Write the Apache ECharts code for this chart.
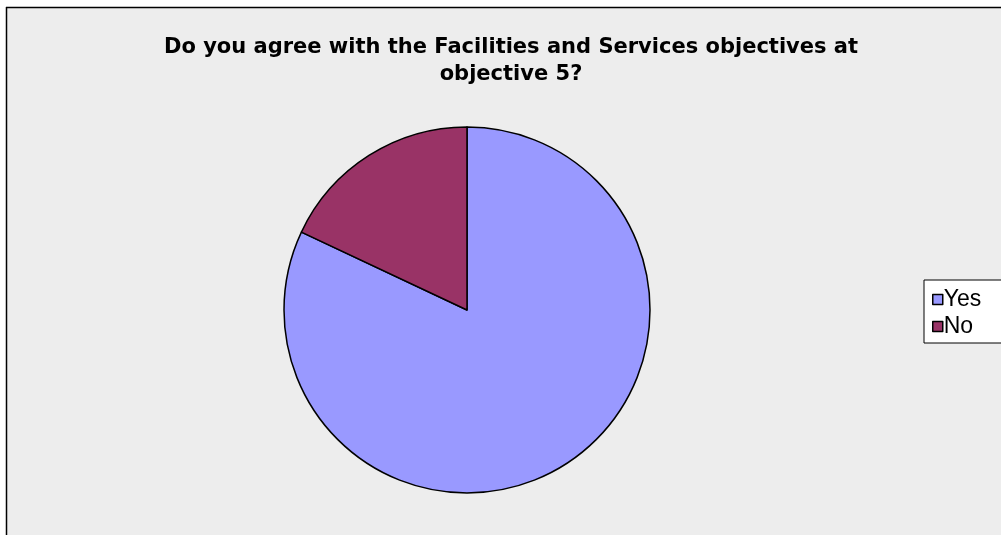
<!DOCTYPE html>
<html><head><meta charset="utf-8">
<script src="https://cdn.jsdelivr.net/npm/echarts@6/dist/echarts.min.js"></script>
<style>html,body{margin:0;padding:0;background:#fff;overflow:hidden}#c{width:1001px;height:535px}</style>
</head><body><div id="c"></div>
<script>
var titleLines = ['Do you agree with the Facilities and Services objectives at', 'objective 5?'];
var categories = ['Yes', 'No'];
var values = [82, 18];
var colors = ['#9999FF', '#993366'];

var chart = echarts.init(document.getElementById('c'), null, {renderer: 'canvas'});
chart.setOption({
  animation: false,
  backgroundColor: '#ffffff',
  graphic: [{
    type: 'rect', z: -10, silent: true,
    shape: {x: 7, y: 8, width: 1001, height: 535},
    style: {fill: '#EDEDED'}
  }, {
    type: 'line', z: -9, silent: true,
    shape: {x1: 6, y1: 7.5, x2: 1001, y2: 7.5},
    style: {stroke: '#000', lineWidth: 1.5}
  }, {
    type: 'line', z: -9, silent: true,
    shape: {x1: 6.5, y1: 7, x2: 6.5, y2: 535},
    style: {stroke: '#000', lineWidth: 1.5}
  }],
  title: {
    text: titleLines.join('\n'),
    left: 506, top: 29, textAlign: 'center',
    textStyle: {fontFamily: 'DejaVu Sans', fontWeight: 'bold', fontSize: 21, lineHeight: 27, color: '#000'}
  },
  legend: {
    orient: 'vertical', left: 924, top: 280,
    data: categories,
    icon: 'rect', itemWidth: 10, itemHeight: 10, itemGap: 2,
    padding: [7, 30, 4, 8],
    backgroundColor: '#fff', borderColor: '#000', borderWidth: 1,
    itemStyle: {borderColor: '#000', borderWidth: 1.5},
    textStyle: {fontFamily: 'Liberation Sans', fontSize: 23, lineHeight: 23, color: '#000', padding: [2, 0, 0, -4]}
  },
  series: [{
    type: 'pie', center: [467, 310], radius: 183,
    startAngle: 90, clockwise: true,
    label: {show: false}, labelLine: {show: false},
    itemStyle: {borderColor: '#000', borderWidth: 1.5},
    emphasis: {disabled: true},
    data: categories.map(function (c, i) { return {name: c, value: values[i], itemStyle: {color: colors[i]}}; })
  }]
});
</script></body></html>
